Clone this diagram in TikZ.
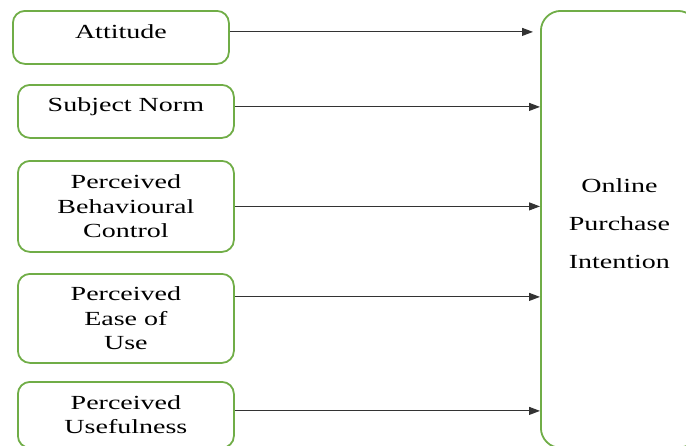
\documentclass[tikz,border=0pt]{standalone}
\usepackage{fontspec}
\setmainfont{Liberation Serif}[FakeStretch=1.4]
\usetikzlibrary{arrows.meta,calc}
\definecolor{boxgreen}{RGB}{112,173,71}
\tikzset{
  factor/.style={draw=boxgreen, line width=1.8pt, rounded corners=12pt,
    anchor=north west, minimum width=216pt, inner sep=0pt,
    align=center, font=\fontsize{20}{24.5}\selectfont},
  target/.style={draw=boxgreen, line width=1.8pt, rounded corners=20pt,
    anchor=north west, minimum width=157pt, minimum height=437pt, inner sep=0pt},
  link/.style={draw=black!80, line width=1pt,
    -{Triangle[length=11pt,width=8pt]}}
}
\begin{document}
\begin{tikzpicture}[x=1pt,y=-1pt]
\useasboundingbox (0,0) rectangle (686,445);

% predictor boxes
\node[factor, minimum height=53pt, text depth=12pt] (att) at (12,10) {Attitude};
\node[factor, minimum height=53pt, text depth=14pt] (sn)  at (17,84) {Subject Norm};
\node[factor, minimum height=91pt] (pbc) at (17,160) {Perceived\\Behavioural\\Control};
\node[factor, minimum height=89pt] (peou) at (17,273) {Perceived\\Ease of\\Use};
\node[factor, minimum height=66pt] (pu)  at (17,381) {Perceived\\Usefulness};

% outcome box
\node[target] (opi) at (540,10) {};
\node[align=center, font=\fontsize{20}{38}\selectfont] (opit) at ($(opi.center)+(0,-6)$)
  {Online\\Purchase\\Intention};

% connectors
\draw[link] ([yshift=5.5pt]att.east) -- ([xshift=-7pt,yshift=5.5pt]att.east -| opi.west);
\draw[link] ([yshift=4.5pt]sn.east) -- ([yshift=4.5pt]sn.east -| opi.west);
\draw[link] (pbc.east) -- (pbc.east -| opi.west);
\draw[link] ([yshift=21.5pt]peou.east) -- ([yshift=21.5pt]peou.east -| opi.west);
\draw[link] ([yshift=4pt]pu.east) -- ([yshift=4pt]pu.east -| opi.west);
\end{tikzpicture}
\end{document}
